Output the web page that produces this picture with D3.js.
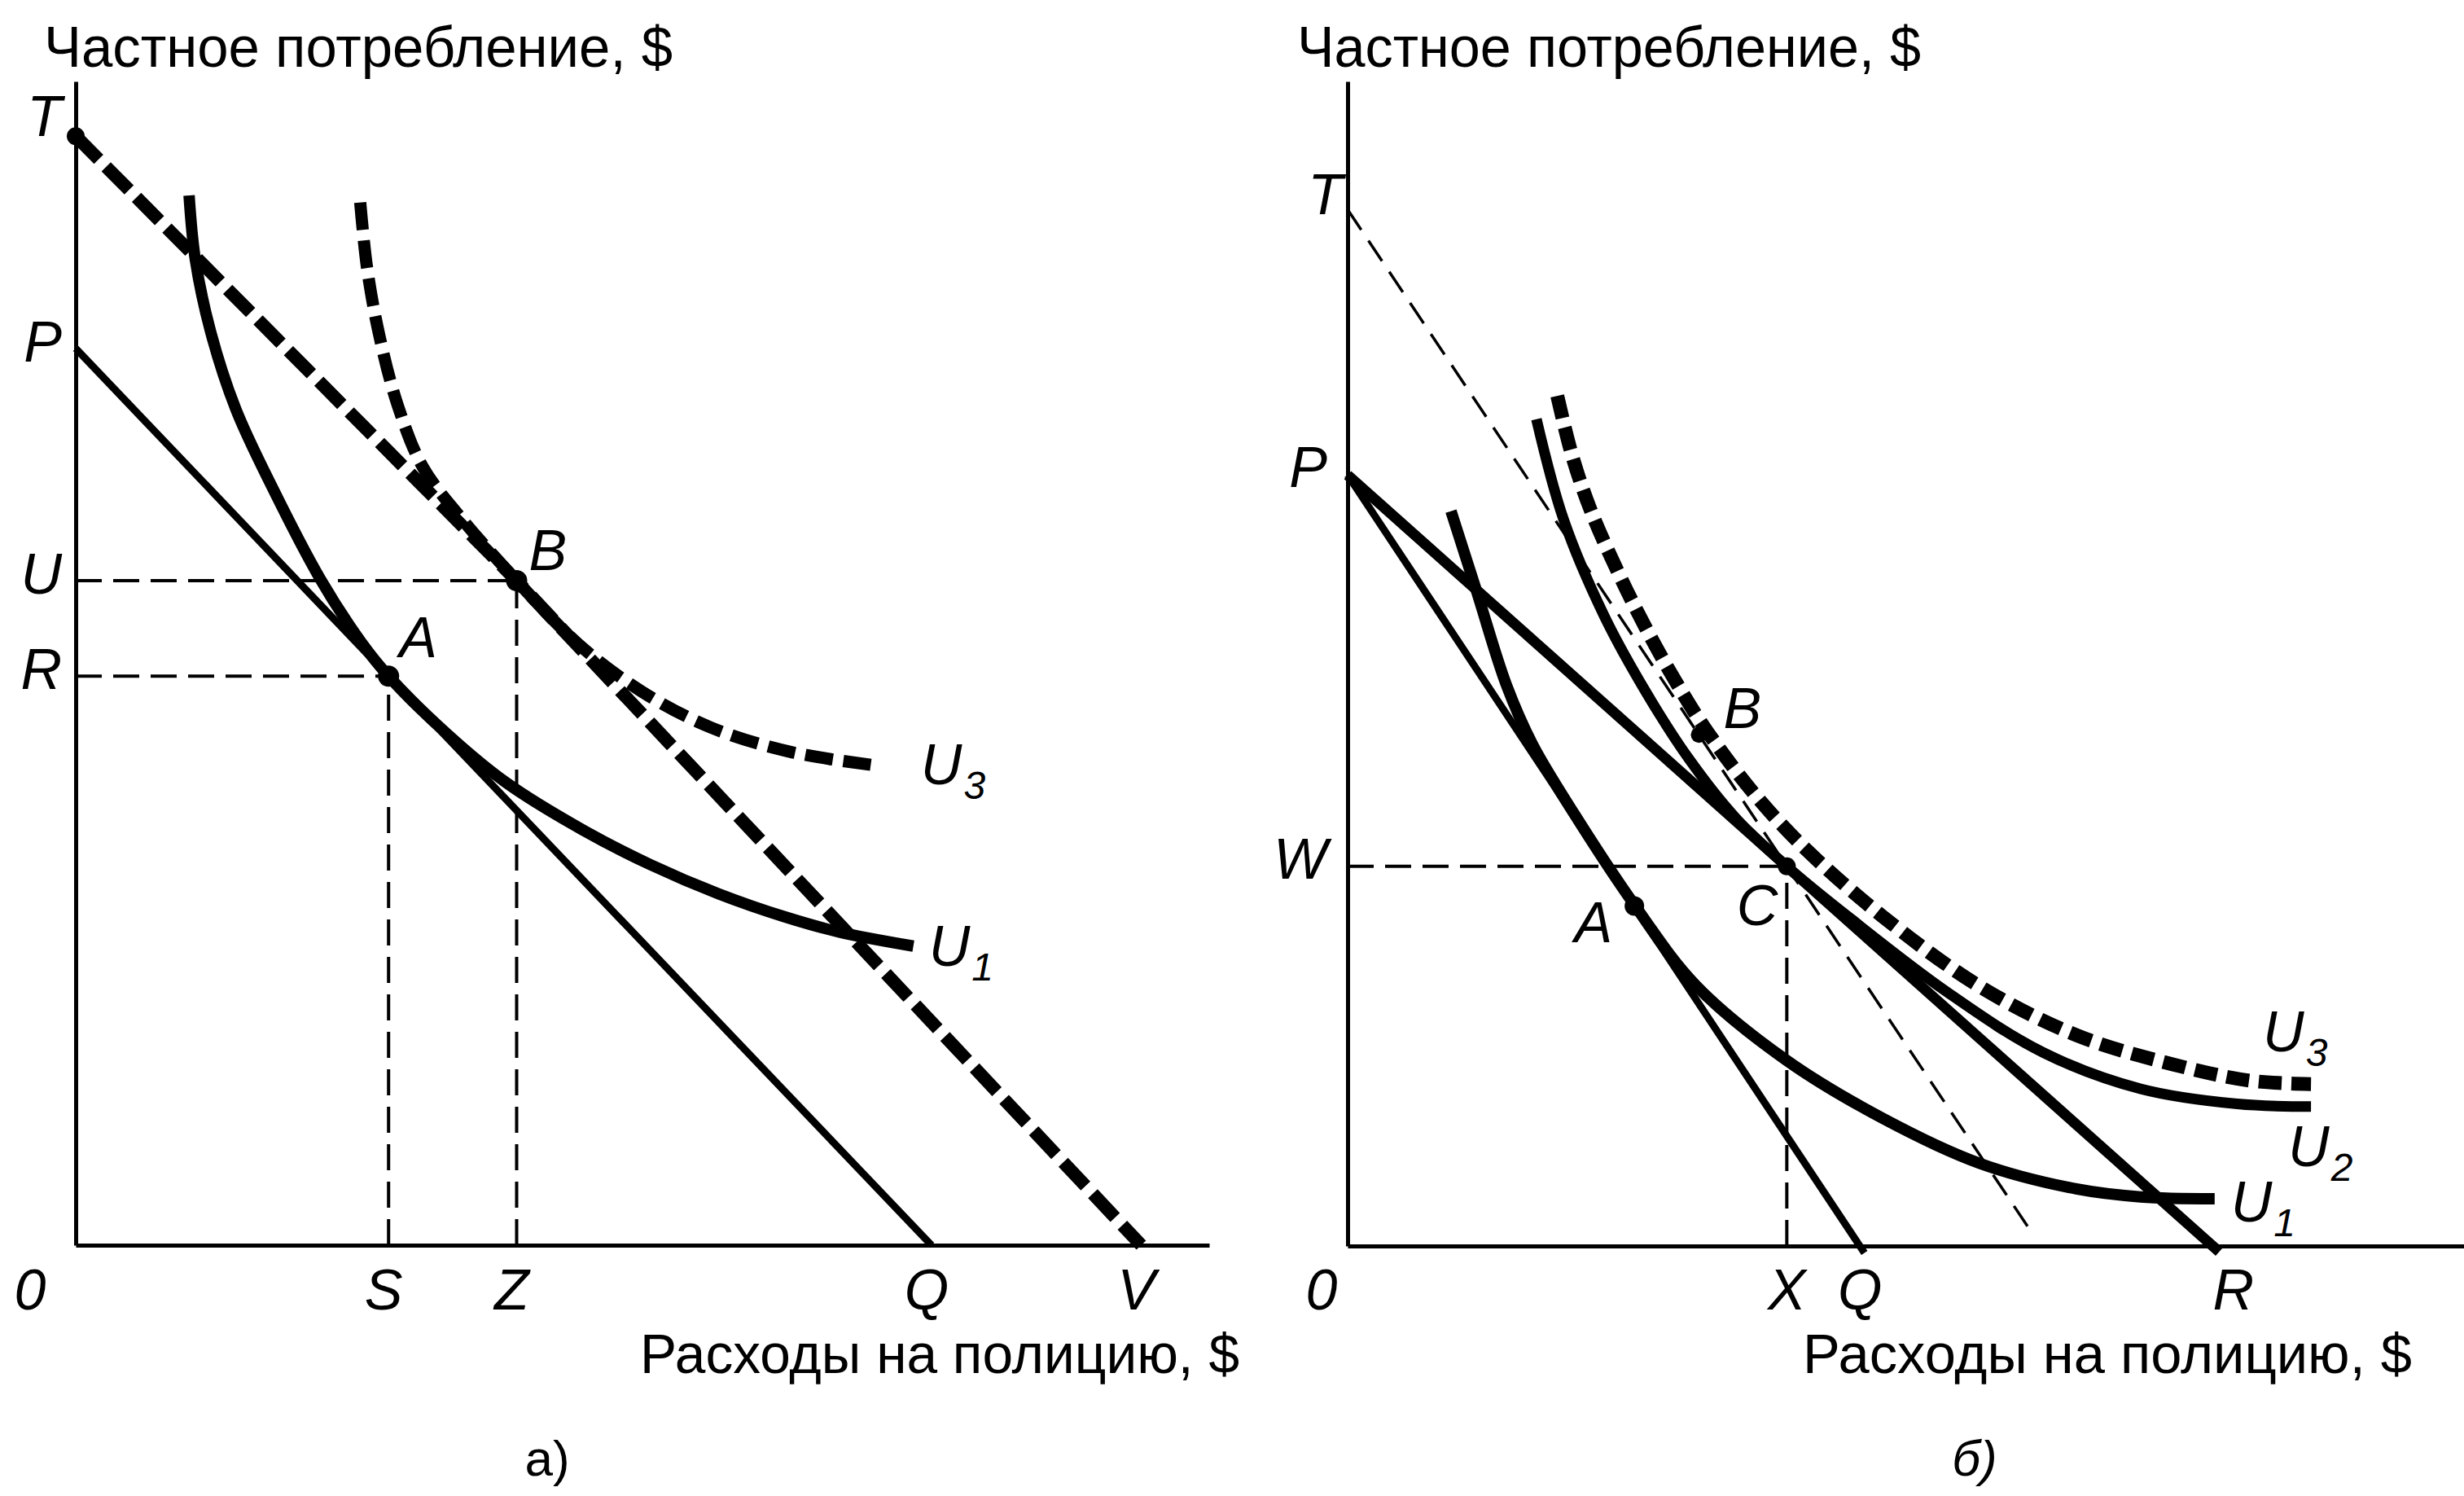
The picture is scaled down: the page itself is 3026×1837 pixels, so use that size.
<!DOCTYPE html>
<html>
<head>
<meta charset="utf-8">
<script src="https://cdn.jsdelivr.net/npm/d3@7/dist/d3.min.js"></script>
<style>
    body { margin: 0; background: #fff; }
    text { font-family: "Liberation Sans", Arial, sans-serif; fill: #000; }
</style>
</head>
<body>
<svg id="chart" width="3026" height="1837"></svg>
<script>

// panel a values (axis units)
// panel a values (axis units)

var aXTickNames = ["0", "S", "Z", "Q", "V"];
var aXTickValues = [0, 27.6, 38.9, 75.5, 94.0];
var aYTickNames = ["T", "P", "U", "R"];
var aYTickValues = [95.3, 77.05, 57.1, 48.9];
var aPointA = [27.6, 48.9];
var aPointB = [38.9, 57.1];
var aBudgetPQ = [[0, 77.05], [75.5, 0]];
var aBudgetTV = [[0, 95.3], [38.9, 57.1], [94.0, 0]];
var aCurveU1 = [[10.0, 90.2], [10.55, 84.7], [11.9, 78.5], [14.1, 71.9], [17.35, 65.1], [21.6, 57.2], [25.2, 51.8],
                [27.6, 48.9], [32.8, 43.9], [37.9, 39.8], [44.7, 35.7], [50.7, 32.7], [56.7, 30.2], [62.6, 28.2],
                [67.4, 26.9], [73.9, 25.7]];
var aCurveU3 = [[25.1, 89.6], [25.7, 84.0], [26.8, 78.1], [28.4, 72.2], [30.6, 66.9], [33.9, 62.6], [38.9, 57.1],
                [44.4, 51.6], [49.9, 47.6], [56.0, 44.5], [63.0, 42.4], [70.75, 41.2]];

// panel b values (axis units)
// panel b values (axis units)

var bXTickNames = ["0", "X", "Q", "R"];
var bXTickValues = [0, 38.75, 45.2, 76.35];
var bYTickNames = ["T", "P", "W"];
var bYTickValues = [89.0, 66.2, 32.6];
var bPointA = [25.3, 29.2];
var bPointB = [31.0, 43.9];
var bPointC = [38.75, 32.6];
var bBudgetPQ = [[0, 66.2], [45.6, -0.6]];
var bBudgetPR = [[0, 66.2], [76.9, -0.5]];
var bBudgetT = [[0, 89.0], [60.6, 0.8]];
var bCurveU1 = [[9.12, 63.1], [11.39, 56.2], [14.0, 48.2], [16.3, 43.1], [20.0, 37.1], [25.3, 29.3], [30.7, 22.4],
                [38.7, 15.96], [47.2, 10.97], [55.75, 7.1], [64.3, 4.9], [69.95, 4.22], [76.5, 4.06]];
var bCurveU2 = [[16.66, 71.0], [19.05, 62.4], [22.64, 54.1], [26.24, 47.7], [30.06, 41.9], [34.2, 36.8],
                [38.75, 32.6], [44.4, 28.1], [52.9, 21.8], [61.4, 16.6], [69.95, 13.5], [78.5, 12.2], [85.0, 11.97]];
var bCurveU3 = [[18.5, 73.0], [19.8, 67.9], [21.44, 63.2], [23.84, 57.9], [26.24, 53.2], [28.87, 48.6],
                [31.5, 44.5], [35.9, 38.8], [40.4, 34.1], [47.2, 28.3], [55.75, 22.3], [64.3, 18.1], [72.8, 15.6],
                [79.6, 14.2], [85.0, 13.9]];

var svg = d3.select("#chart");
var letterSize = 70;

// scales for both panels
// scales for both panels

var xa = d3.scaleLinear().domain([0, 100]).range([93, 1485]);
var ya = d3.scaleLinear().domain([0, 100]).range([1529, 100]);
var xb = d3.scaleLinear().domain([0, 98.5]).range([1655, 3026]);
var yb = d3.scaleLinear().domain([0, 100]).range([1530, 100]);

function drawAxes(x, y)
{
    svg.append("g")
        .attr("transform", "translate(0," + y(0) + ")")
        .call(d3.axisBottom(x).tickValues([]).tickSizeOuter(0))
        .select(".domain").attr("stroke-width", 5);

    svg.append("g")
        .attr("transform", "translate(" + x(0) + ",0)")
        .call(d3.axisLeft(y).tickValues([]).tickSizeOuter(0))
        .select(".domain").attr("stroke-width", 5);
}

function drawPath(points, x, y, width, dash, smooth)
{
    var line = d3.line()
        .x(function(d) { return x(d[0]); })
        .y(function(d) { return y(d[1]); });
    if (smooth) line.curve(d3.curveCatmullRom.alpha(0.5));

    svg.append("path")
        .attr("d", line(points))
        .attr("fill", "none")
        .attr("stroke", "#000")
        .attr("stroke-width", width)
        .attr("stroke-dasharray", dash)
        .attr("stroke-linecap", "butt")
        .attr("stroke-linejoin", "round");
}

// thin dashed guides from both axes to a point
function drawGuides(point, x, y)
{
    drawPath([[0, point[1]], point], x, y, 4, "32,14", false);
    drawPath([[point[0], 0], point], x, y, 4, "32,14", false);
}

function drawDot(point, x, y, r)
{
    svg.append("circle")
        .attr("cx", x(point[0]))
        .attr("cy", y(point[1]))
        .attr("r", r)
        .attr("fill", "#000");
}

function letter(px, py, txt, anchor)
{
    return svg.append("text")
        .attr("x", px)
        .attr("y", py)
        .attr("text-anchor", anchor || "start")
        .style("font-style", "italic")
        .style("font-size", letterSize + "px")
        .text(txt);
}

function curveLabel(px, py, num)
{
    var t = letter(px, py, "U");
    t.append("tspan")
        .attr("dx", 2)
        .attr("dy", 18)
        .style("font-size", "48px")
        .text(num);
}

function plainText(px, py, txt, len, size)
{
    var t = svg.append("text")
        .attr("x", px)
        .attr("y", py)
        .style("font-size", size + "px")
        .text(txt);
    if (len) t.attr("textLength", len).attr("lengthAdjust", "spacingAndGlyphs");
    return t;
}

// PANEL A
// PANEL A

drawAxes(xa, ya);
drawGuides(aPointA, xa, ya);
drawGuides(aPointB, xa, ya);
drawPath(aBudgetPQ, xa, ya, 9, null, false);
drawPath(aCurveU1, xa, ya, 14, null, true);
drawPath(aBudgetTV, xa, ya, 16, "40,13", false);
drawPath(aCurveU3, xa, ya, 15, "34,13", true);
drawDot(aPointA, xa, ya, 13);
drawDot(aPointB, xa, ya, 13);
drawDot([0, aYTickValues[0]], xa, ya, 11);

aXTickNames.forEach(function(name, i) {
    var px = i == 0 ? 37 : xa(aXTickValues[i]) - 6;
    letter(px, 1608, name, "middle");
});
aYTickNames.forEach(function(name, i) {
    var py = ya(aYTickValues[i]) + (name == "T" ? 0 : 16);
    letter(76, py, name, "end");
});

letter(xa(aPointA[0]) + 13, ya(aPointA[1]) - 23, "A");
letter(xa(aPointB[0]) + 15, ya(aPointB[1]) - 13, "B");
curveLabel(xa(aCurveU3[aCurveU3.length - 1][0]) + 53, ya(aCurveU3[aCurveU3.length - 1][1]) + 23, "3");
curveLabel(xa(aCurveU1[aCurveU1.length - 1][0]) + 19, ya(aCurveU1[aCurveU1.length - 1][1]) + 24, "1");

plainText(54, 82, "Частное потребление, $", 772, 70);
plainText(786, 1686, "Расходы на полицию, $", 736, 68);
plainText(672, 1812, "а)", null, 62).attr("text-anchor", "middle");

// PANEL B
// PANEL B

drawAxes(xb, yb);
drawPath([[0, bPointC[1]], bPointC], xb, yb, 4, "32,14", false);
drawPath([[bPointC[0], 0], bPointC], xb, yb, 4, "32,14", false);
drawPath(bBudgetT, xb, yb, 3.5, "30,16", false);
drawPath(bBudgetPQ, xb, yb, 9, null, false);
drawPath(bBudgetPR, xb, yb, 13, null, false);
drawPath(bCurveU1, xb, yb, 14, null, true);
drawPath(bCurveU2, xb, yb, 13, null, true);
drawPath(bCurveU3, xb, yb, 17, "28,12", true);
drawDot(bPointA, xb, yb, 12);
drawDot(bPointB, xb, yb, 10);
drawDot(bPointC, xb, yb, 11);

bXTickNames.forEach(function(name, i) {
    var px = i == 0 ? 1623 : xb(bXTickValues[i]) + (name == "R" ? 25 : 0);
    letter(px, 1608, name, "middle");
});
bYTickNames.forEach(function(name, i) {
    if (name == "T") letter(1649, yb(bYTickValues[i]) + 6, name, "end");
    else letter(1630, yb(bYTickValues[i]) + 15, name, "end");
});

letter(xb(bPointA[0]) - 27, yb(bPointA[1]) + 45, "A", "end");
letter(xb(bPointB[0]) + 30, yb(bPointB[1]) - 8, "B");
letter(xb(bPointC[0]) - 11, yb(bPointC[1]) + 72, "C", "end");
curveLabel(xb(bCurveU3[bCurveU3.length - 1][0]) - 59, yb(bCurveU3[bCurveU3.length - 1][1]) - 40, "3");
curveLabel(xb(bCurveU2[bCurveU2.length - 1][0]) - 28, yb(bCurveU2[bCurveU2.length - 1][1]) + 73, "2");
curveLabel(xb(bCurveU1[bCurveU1.length - 1][0]) + 20, yb(bCurveU1[bCurveU1.length - 1][1]) + 28, "1");

plainText(1593, 82, "Частное потребление, $", 766, 70);
plainText(2214, 1686, "Расходы на полицию, $", 748, 68);
plainText(2425, 1812, "б)", null, 62).attr("text-anchor", "middle").style("font-style", "italic");

</script>
</body>
</html>
